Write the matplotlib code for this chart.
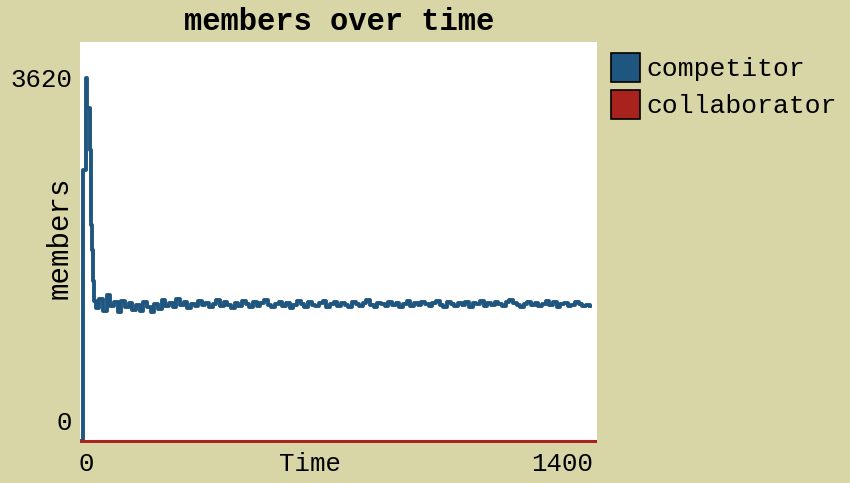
import matplotlib.pyplot as plt
from matplotlib.patches import Patch

# ticks of the competitor run (start, spike, then every 10 ticks)
tempo_inicio = [0, 4, 5, 12, 13, 16, 17, 22, 24, 26, 28, 30, 33, 36]
membros_inicio = [0, 0, 2700, 2700, 3620, 3620, 3320, 3320, 2900, 2450, 2150, 1900, 1600, 1400]

tempo_resto = list(range(40, 1400, 10))
membros_resto = [
    1330, 1420, 1300, 1460, 1350, 1390, 1290, 1400, 1340, 1380,
    1310, 1360, 1300, 1390, 1340, 1290, 1370, 1320, 1410, 1350,
    1380, 1340, 1420, 1360, 1390, 1330, 1370, 1350, 1400, 1360,
    1380, 1340, 1370, 1410, 1350, 1390, 1360, 1330, 1380, 1350,
    1400, 1370, 1340, 1390, 1350, 1380, 1410, 1360, 1340, 1370,
    1390, 1350, 1380, 1330, 1360, 1400, 1370, 1340, 1390, 1360,
    1350, 1380, 1400, 1340, 1370, 1390, 1350, 1380, 1360, 1340,
    1390, 1370, 1350, 1380, 1410, 1360, 1340, 1380, 1370, 1350,
    1390, 1360, 1380, 1340, 1370, 1400, 1350, 1380, 1360, 1390,
    1370, 1350, 1380, 1400, 1360, 1340, 1390, 1370, 1350, 1380,
    1360, 1390, 1340, 1380, 1370, 1400, 1350, 1380, 1360, 1390,
    1370, 1350, 1390, 1410, 1380, 1360, 1340, 1370, 1390, 1360,
    1380, 1350, 1370, 1400, 1360, 1390, 1340, 1370, 1380, 1350,
    1360, 1390, 1370, 1350, 1360, 1350,
]

tempo = tempo_inicio + tempo_resto
competidores = membros_inicio + membros_resto
tempo_colab = [0, 1410]
colaboradores = [0, 0]

nomes = ['competitor', 'collaborator']
cores = ['#1f5680', '#a8221e']
fundo = '#d8d5a7'

plt.rcParams['font.family'] = ['Liberation Mono', 'DejaVu Sans Mono']

fig = plt.figure(figsize=(8.5, 4.83), dpi=100, facecolor=fundo)
ax = fig.add_axes([80/850, 1 - 443/483, 517/850, 401/483])
ax.set_facecolor('white')

ax.plot(tempo, competidores, color=cores[0], lw=2.8, drawstyle='steps-post')
ax.plot(tempo_colab, colaboradores, color=cores[1], lw=2.2)

ax.set_xlim(-3, 1410)
ax.set_ylim(-20, 3978)
ax.set_xticks([])
ax.set_yticks([])
for s in ax.spines.values():
    s.set_visible(False)

# rótulos no estilo do NetLogo
fig.text(339/850, 1 - 22/483, 'members over time', ha='center', va='center',
         fontsize=22, fontweight='bold')
fig.text(72/850, 1 - 80/483, '3620', ha='right', va='center', fontsize=18.5)
fig.text(72/850, 1 - 423/483, '0', ha='right', va='center', fontsize=18.5)
fig.text(60/850, 1 - 238/483, 'members', ha='center', va='center',
         rotation=90, fontsize=21)
fig.text(86/850, 1 - 464/483, '0', ha='center', va='center', fontsize=18.5)
fig.text(310/850, 1 - 464/483, 'Time', ha='center', va='center', fontsize=18.5)
fig.text(593/850, 1 - 464/483, '1400', ha='right', va='center', fontsize=18.5)

alcas = [Patch(facecolor=c, edgecolor='black', lw=1.2) for c in cores]
fig.legend(alcas, nomes, loc='upper left', bbox_to_anchor=(590/850, 1 - 32/483),
           frameon=False, fontsize=19, handlelength=1.1, handleheight=1.3,
           handletextpad=0.25, labelspacing=0.3, borderpad=0.3)

plt.savefig('out.png', dpi=100, facecolor=fundo)
